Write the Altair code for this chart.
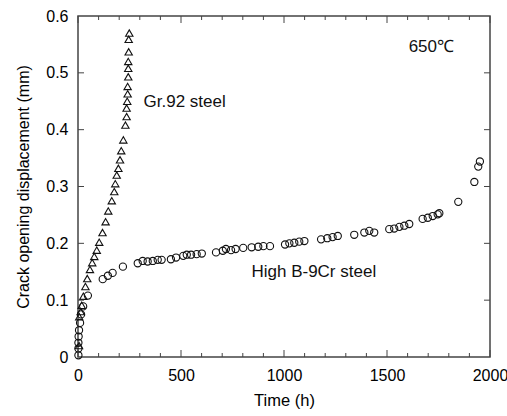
import altair as alt
import pandas as pd

# Gr.92 steel: time (h) and crack opening displacement (mm)
gr92_time = [5, 6, 13, 18, 26, 36, 45, 58, 69, 79, 91, 103, 119, 134, 147, 164,
             176, 181, 188, 196, 204, 210, 220, 230, 236, 236, 239, 241, 241,
             244, 244, 244, 246, 246, 249]
gr92_cod = [0.020, 0.071, 0.080, 0.091, 0.107, 0.124, 0.138, 0.154, 0.166, 0.177,
            0.188, 0.202, 0.219, 0.238, 0.257, 0.275, 0.291, 0.305, 0.320, 0.332,
            0.347, 0.363, 0.382, 0.408, 0.423, 0.438, 0.450, 0.463, 0.476, 0.493,
            0.508, 0.520, 0.537, 0.559, 0.570]

# High B-9Cr steel
hb_time = [2, 2, 2, 3, 5, 10, 15, 25, 48, 120, 145, 168, 218, 290, 314, 338, 363,
           387, 406, 451, 476, 511, 528, 549, 576, 601, 670, 703, 718, 743, 765,
           802, 843, 875, 900, 932, 1005, 1026, 1050, 1074, 1099, 1180, 1210, 1236,
           1261, 1341, 1390, 1414, 1438, 1511, 1535, 1560, 1584, 1608, 1673, 1698,
           1722, 1746, 1754, 1846, 1924, 1943, 1951]
hb_cod = [0.003, 0.015, 0.025, 0.036, 0.047, 0.060, 0.075, 0.089, 0.108, 0.137,
          0.143, 0.148, 0.159, 0.165, 0.169, 0.168, 0.169, 0.171, 0.171, 0.172,
          0.175, 0.178, 0.180, 0.180, 0.181, 0.182, 0.184, 0.187, 0.190, 0.188,
          0.190, 0.192, 0.193, 0.194, 0.195, 0.195, 0.198, 0.200, 0.201, 0.203,
          0.204, 0.207, 0.209, 0.211, 0.213, 0.215, 0.219, 0.222, 0.219, 0.225,
          0.226, 0.229, 0.231, 0.234, 0.243, 0.245, 0.248, 0.251, 0.253, 0.273,
          0.308, 0.335, 0.344]

x_major = [0, 500, 1000, 1500, 2000]
x_minor = [100, 200, 300, 400, 600, 700, 800, 900, 1100, 1200, 1300, 1400,
           1600, 1700, 1800, 1900]
y_major = [0.1, 0.2, 0.3, 0.4, 0.5]
y_labels = [0, 0.1, 0.2, 0.3, 0.4, 0.5, 0.6]

FONT = "Liberation Sans"
INK = "#111111"
FRAME = "#444444"
W, H = 412, 341

xs = alt.Scale(domain=[0, 2000], nice=False, zero=False)
ys = alt.Scale(domain=[0, 0.6], nice=False, zero=False)

x_enc = alt.X("t:Q", scale=xs, title="Time (h)",
              axis=alt.Axis(values=x_major, format="d", tickSize=0, grid=False,
                            labelFlush=False, labelPadding=10, titlePadding=9,
                            titleFontSize=16.5))
y_enc = alt.Y("cod:Q", scale=ys, title="Crack opening displacement (mm)",
              axis=alt.Axis(values=y_labels, format="~g", tickSize=0, grid=False,
                            labelFlush=False, labelPadding=10, titlePadding=14,
                            titleFontSize=16))

gr92 = pd.DataFrame({"t": gr92_time, "cod": gr92_cod})
hb = pd.DataFrame({"t": hb_time, "cod": hb_cod})

tri = alt.Chart(gr92).mark_point(
    shape="triangle-up", filled=False, color=INK, strokeWidth=1.1, size=54, opacity=1
).encode(x=x_enc, y=y_enc)

circ = alt.Chart(hb).mark_point(
    shape="circle", filled=False, color=INK, strokeWidth=1.1, size=52, opacity=1
).encode(x=x_enc, y=y_enc)

# Inward tick marks on all four sides of the frame
xmaj = pd.DataFrame({"t": x_major})
xmin = pd.DataFrame({"t": x_minor})
ymaj = pd.DataFrame({"cod": y_major})

def xticks(df, length):
    bottom = alt.Chart(df).mark_rule(color=FRAME, strokeWidth=1).encode(
        x=alt.X("t:Q", scale=xs, title="Time (h)"),
        y=alt.value(H), y2=alt.value(H - length))
    top = alt.Chart(df).mark_rule(color=FRAME, strokeWidth=1).encode(
        x=alt.X("t:Q", scale=xs, title="Time (h)"),
        y=alt.value(0), y2=alt.value(length))
    return [bottom, top]

def yticks(df, length):
    left = alt.Chart(df).mark_rule(color=FRAME, strokeWidth=1).encode(
        y=alt.Y("cod:Q", scale=ys, title="Crack opening displacement (mm)"),
        x=alt.value(0), x2=alt.value(length))
    right = alt.Chart(df).mark_rule(color=FRAME, strokeWidth=1).encode(
        y=alt.Y("cod:Q", scale=ys, title="Crack opening displacement (mm)"),
        x=alt.value(W), x2=alt.value(W - length))
    return [left, right]

def note(text, t, cod):
    return alt.Chart(pd.DataFrame({"_": [0]})).mark_text(
        text=text, align="left", baseline="middle", font=FONT, fontSize=17,
        color=INK
    ).encode(x=alt.datum(t, scale=xs), y=alt.datum(cod, scale=ys))

layers = [tri, circ] + xticks(xmaj, 7) + xticks(xmin, 4) + yticks(ymaj, 6) + [
    note("Gr.92 steel", 318, 0.448),
    note("High B-9Cr steel", 842, 0.149),
    note("650℃", 1605, 0.545),
]

chart = alt.layer(*layers).properties(
    width=W, height=H,
    autosize=alt.AutoSizeParams(type="none"),
    padding={"left": 78, "top": 16, "right": 17, "bottom": 59},
    background="white",
).configure_view(
    stroke=FRAME, strokeWidth=1.5
).configure_axis(
    domain=False, labelFont=FONT, titleFont=FONT, labelFontSize=16,
    labelColor="black", titleColor="black", titleFontWeight="normal"
)

chart.save("out.html", embed_options={"renderer": "svg", "actions": False})
